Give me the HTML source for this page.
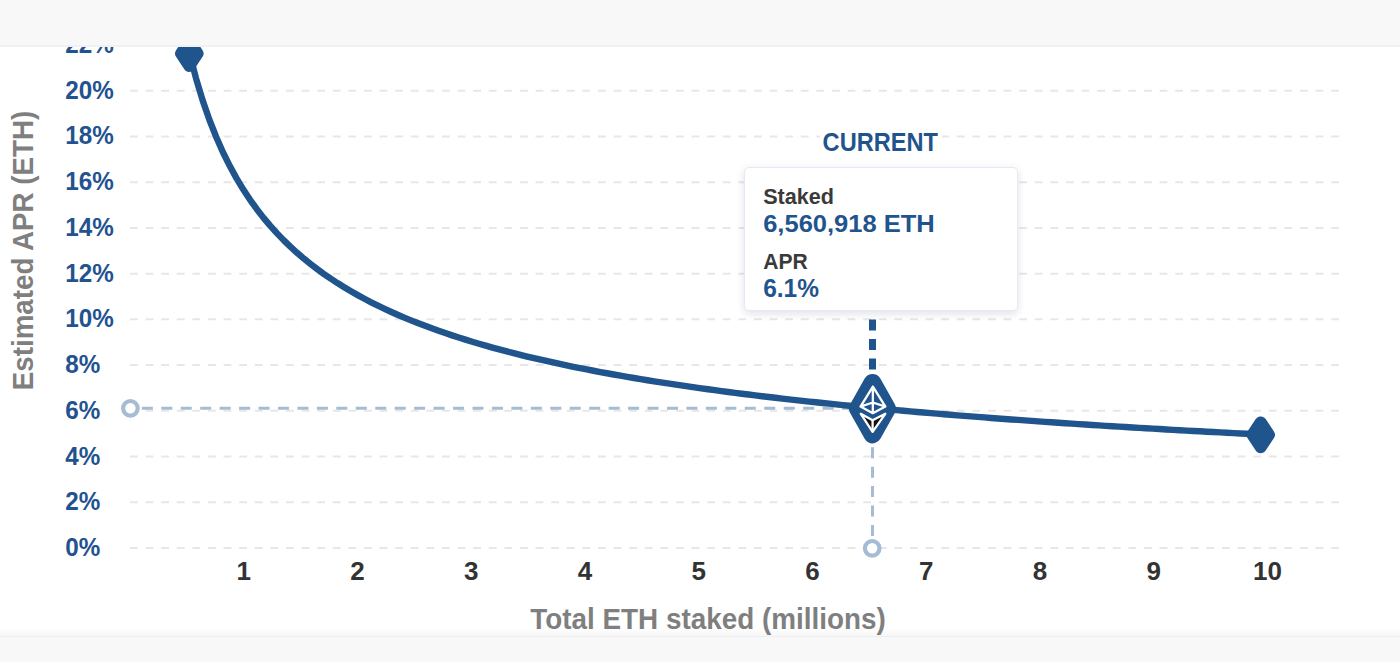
<!DOCTYPE html>
<html><head><meta charset="utf-8"><style>
html,body{margin:0;padding:0;background:#fff;}
body{width:1400px;height:662px;overflow:hidden;position:relative;font-family:"Liberation Sans",Arial,sans-serif;}
#top{position:absolute;left:0;top:0;width:1400px;height:45px;background:#f8f8f8;border-bottom:2px solid #f1f1f1;}
#bot{position:absolute;left:0;top:636px;width:1400px;height:26px;background:#f8f8f8;border-top:1.5px solid #eeeeee;}
#fade{position:absolute;left:0;top:627px;width:1400px;height:9px;background:linear-gradient(#ffffff,#f7f7f7);}
#tip{position:absolute;left:743.5px;top:167px;width:272px;height:142px;background:#fff;border:1px solid #e8e7f6;border-radius:5px;box-shadow:0 4px 7px rgba(40,40,90,0.09),0 0 10px rgba(60,60,140,0.06);}
svg text{font-family:"Liberation Sans",Arial,sans-serif;font-weight:bold;}
</style></head><body>
<div id="fade"></div>
<div id="bot"></div>
<svg id="chart" width="1400" height="662" viewBox="0 0 1400 662" style="position:absolute;left:0;top:0">
<g stroke="#e7e7e7" stroke-width="2" stroke-dasharray="7.8 7.8"><line x1="130" y1="547.97" x2="1340" y2="547.97"/><line x1="130" y1="502.25" x2="1340" y2="502.25"/><line x1="130" y1="456.53" x2="1340" y2="456.53"/><line x1="130" y1="410.81" x2="1340" y2="410.81"/><line x1="130" y1="365.09" x2="1340" y2="365.09"/><line x1="130" y1="319.37" x2="1340" y2="319.37"/><line x1="130" y1="273.65" x2="1340" y2="273.65"/><line x1="130" y1="227.93" x2="1340" y2="227.93"/><line x1="130" y1="182.21" x2="1340" y2="182.21"/><line x1="130" y1="136.49" x2="1340" y2="136.49"/><line x1="130" y1="90.77" x2="1340" y2="90.77"/><line x1="130" y1="45.05" x2="1340" y2="45.05"/></g>
<g fill="#225290" font-size="26"><text transform="translate(65.2,555.97) scale(0.932,1)">0%</text><text transform="translate(65.2,510.25) scale(0.932,1)">2%</text><text transform="translate(65.2,464.53) scale(0.932,1)">4%</text><text transform="translate(65.2,418.81) scale(0.932,1)">6%</text><text transform="translate(65.2,373.09) scale(0.932,1)">8%</text><text transform="translate(65.2,327.37) scale(0.932,1)">10%</text><text transform="translate(65.2,281.65) scale(0.932,1)">12%</text><text transform="translate(65.2,235.93) scale(0.932,1)">14%</text><text transform="translate(65.2,190.21) scale(0.932,1)">16%</text><text transform="translate(65.2,144.49) scale(0.932,1)">18%</text><text transform="translate(65.2,98.77) scale(0.932,1)">20%</text><text transform="translate(65.2,53.05) scale(0.932,1)">22%</text></g>
<g fill="#333333" font-size="26"><text x="243.74" y="580.2" text-anchor="middle">1</text><text x="357.48" y="580.2" text-anchor="middle">2</text><text x="471.22" y="580.2" text-anchor="middle">3</text><text x="584.96" y="580.2" text-anchor="middle">4</text><text x="698.70" y="580.2" text-anchor="middle">5</text><text x="812.44" y="580.2" text-anchor="middle">6</text><text x="926.18" y="580.2" text-anchor="middle">7</text><text x="1039.92" y="580.2" text-anchor="middle">8</text><text x="1153.66" y="580.2" text-anchor="middle">9</text><text x="1267.40" y="580.2" text-anchor="middle">10</text></g>
<text x="530.3" y="629.2" font-size="29.5" fill="#7f7f7f" textLength="355.5" lengthAdjust="spacingAndGlyphs">Total ETH staked (millions)</text>
<text transform="translate(33.3,390.2) rotate(-90)" x="0" y="0" font-size="29.5" fill="#7f7f7f" textLength="279.5" lengthAdjust="spacingAndGlyphs">Estimated APR (ETH)</text>
<g stroke="#a5bcd2" stroke-width="3" fill="none" stroke-dasharray="11 8.45">
<line x1="872.5" y1="408.3" x2="130.4" y2="408.3"/>
<line x1="872.5" y1="408.3" x2="872.5" y2="548.3"/>
</g>
<circle cx="130.4" cy="408.3" r="7.3" fill="#fff" stroke="#a5bcd2" stroke-width="4.2"/>
<circle cx="872.2" cy="548.3" r="7.3" fill="#fff" stroke="#a5bcd2" stroke-width="4.2"/>
<path d="M189.26,52.32 L196.00,78.31 L202.73,100.59 L209.47,119.97 L216.21,137.04 L222.95,152.21 L229.69,165.82 L236.42,178.12 L243.16,189.30 L249.90,199.52 L256.64,208.92 L263.37,217.59 L270.11,225.63 L276.85,233.12 L283.59,240.10 L290.33,246.64 L297.06,252.78 L303.80,258.56 L310.54,264.01 L317.28,269.16 L324.02,274.05 L330.75,278.68 L337.49,283.09 L344.23,287.29 L350.97,291.29 L357.70,295.12 L364.44,298.78 L371.18,302.29 L377.92,305.65 L384.66,308.88 L391.39,311.98 L398.13,314.96 L404.87,317.83 L411.61,320.60 L418.35,323.28 L425.08,325.86 L431.82,328.35 L438.56,330.76 L445.30,333.09 L452.03,335.35 L458.77,337.54 L465.51,339.67 L472.25,341.73 L478.99,343.73 L485.72,345.67 L492.46,347.56 L499.20,349.40 L505.94,351.19 L512.68,352.93 L519.41,354.62 L526.15,356.27 L532.89,357.88 L539.63,359.45 L546.36,360.98 L553.10,362.48 L559.84,363.94 L566.58,365.36 L573.32,366.76 L580.05,368.12 L586.79,369.45 L593.53,370.75 L600.27,372.03 L607.00,373.27 L613.74,374.49 L620.48,375.69 L627.22,376.86 L633.96,378.01 L640.69,379.13 L647.43,380.24 L654.17,381.32 L660.91,382.38 L667.65,383.42 L674.38,384.44 L681.12,385.44 L687.86,386.43 L694.60,387.39 L701.33,388.34 L708.07,389.28 L714.81,390.19 L721.55,391.10 L728.29,391.98 L735.02,392.85 L741.76,393.71 L748.50,394.55 L755.24,395.38 L761.98,396.20 L768.71,397.00 L775.45,397.79 L782.19,398.57 L788.93,399.33 L795.66,400.09 L802.40,400.83 L809.14,401.56 L815.88,402.28 L822.62,402.99 L829.35,403.69 L836.09,404.38 L842.83,405.06 L849.57,405.73 L856.31,406.39 L863.04,407.05 L869.78,407.69 L876.52,408.32 L883.26,408.95 L889.99,409.57 L896.73,410.18 L903.47,410.78 L910.21,411.37 L916.95,411.96 L923.68,412.54 L930.42,413.11 L937.16,413.67 L943.90,414.23 L950.63,414.78 L957.37,415.32 L964.11,415.86 L970.85,416.39 L977.59,416.91 L984.32,417.43 L991.06,417.94 L997.80,418.45 L1004.54,418.95 L1011.28,419.44 L1018.01,419.93 L1024.75,420.42 L1031.49,420.89 L1038.23,421.37 L1044.96,421.83 L1051.70,422.29 L1058.44,422.75 L1065.18,423.20 L1071.92,423.65 L1078.65,424.09 L1085.39,424.53 L1092.13,424.96 L1098.87,425.39 L1105.61,425.82 L1112.34,426.23 L1119.08,426.65 L1125.82,427.06 L1132.56,427.47 L1139.29,427.87 L1146.03,428.27 L1152.77,428.67 L1159.51,429.06 L1166.25,429.44 L1172.98,429.83 L1179.72,430.21 L1186.46,430.58 L1193.20,430.96 L1199.94,431.32 L1206.67,431.69 L1213.41,432.05 L1220.15,432.41 L1226.89,432.77 L1233.62,433.12 L1240.36,433.47 L1247.10,433.81 L1253.84,434.16 L1260.58,434.50" fill="none" stroke="#1f548c" stroke-width="6.4" stroke-linejoin="round"/>
<line x1="872.5" y1="408.3" x2="872.5" y2="311" stroke="#1f548c" stroke-width="7" stroke-dasharray="11 8.45"/>
<polygon points="189.3,41.1 197.55,53.5 189.3,65.9 181.05,53.5" fill="#1f548c" stroke="#1f548c" stroke-width="12" stroke-linejoin="round"/>
<polygon points="1260.7,422.40000000000003 1268.95,434.8 1260.7,447.2 1252.45,434.8" fill="#1f548c" stroke="#1f548c" stroke-width="12" stroke-linejoin="round"/>
<polygon points="872.5,382.95 887.0,408.7 872.5,434.45 858.0,408.7" fill="#1f548c" stroke="#1f548c" stroke-width="18" stroke-linejoin="round"/>
<g transform="translate(872.5,408.6)" fill="none" stroke="#fff" stroke-width="2.3" stroke-linejoin="round">
<path d="M-11.7,5.2 L0.1,11.7 L0.1,23.2 Z M12.8,5.2 L0.1,11.7 L0.1,23.2 Z" fill="#111" stroke="none"/>
<path d="M0.4,-22 L-12,-2 L0.3,4.6 L12.9,-2 Z M0.4,-22 L0.3,4.6 M-12,-2 L0.35,-6.1 L12.9,-2"/>
<path d="M-11.7,5.2 L0.1,11.7 L12.8,5.2 L0.1,23.2 Z"/>
<path d="M0.1,11.7 L0.1,23.2"/>
</g>
<rect x="820" y="126" width="122" height="30" fill="#fff"/>
<text x="822.6" y="151.2" font-size="25.5" fill="#1f548c" textLength="115.3" lengthAdjust="spacingAndGlyphs">CURRENT</text>
</svg>
<div id="tip"></div>
<svg width="1400" height="662" style="position:absolute;left:0;top:0">
<text x="763.2" y="204.3" font-size="22" fill="#3a3a3a" textLength="70.8" lengthAdjust="spacingAndGlyphs">Staked</text>
<text x="763.2" y="232.3" font-size="24.5" fill="#1f548c" textLength="171.5" lengthAdjust="spacingAndGlyphs">6,560,918 ETH</text>
<text x="763.2" y="269" font-size="22" fill="#3a3a3a" textLength="44.5" lengthAdjust="spacingAndGlyphs">APR</text>
<text x="763.2" y="297.2" font-size="25" fill="#1f548c" textLength="55.8" lengthAdjust="spacingAndGlyphs">6.1%</text>
</svg>
<div id="top"></div>
</body></html>
